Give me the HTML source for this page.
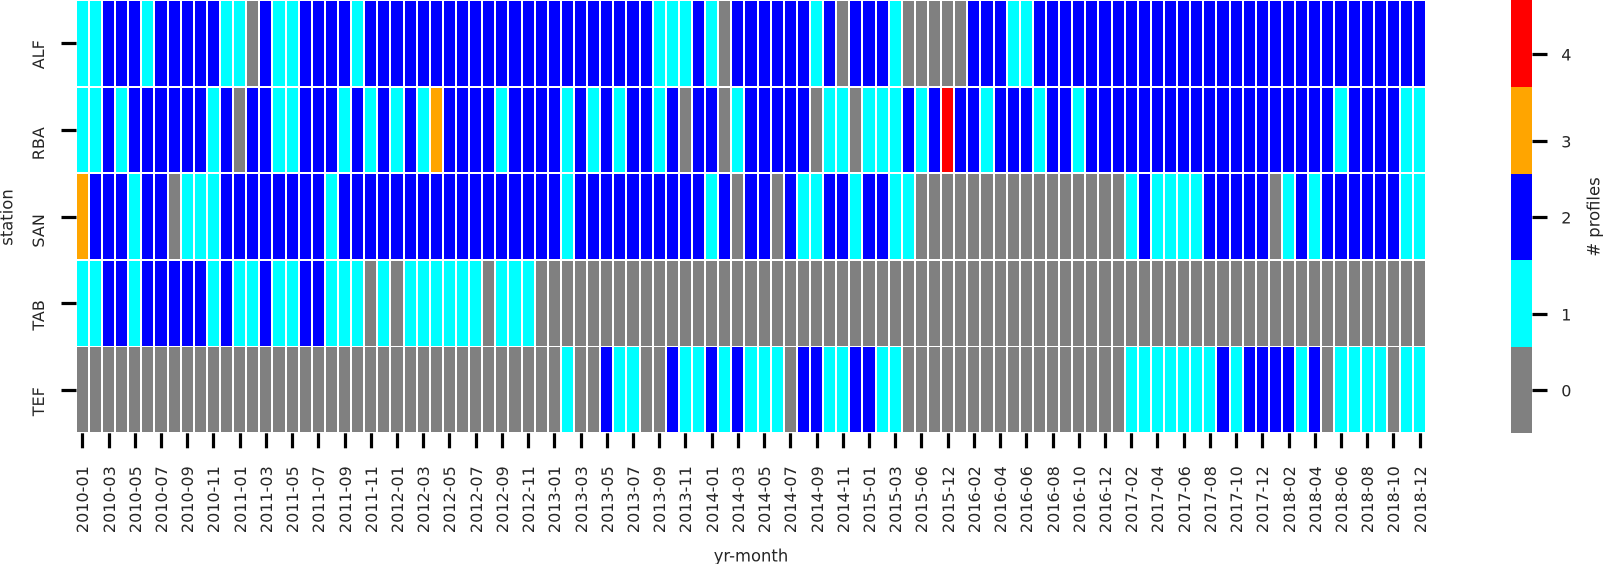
<!DOCTYPE html>
<html lang="en">
<head>
<meta charset="utf-8">
<title>Monthly profile counts by station</title>
<style>
  html, body { margin: 0; padding: 0; background: #fff; }
  svg { display: block; }
  text { font-family: "DejaVu Sans", "Liberation Sans", sans-serif; font-size: 16px; fill: #262626; }
  text.axis-title { font-size: 16.4px; }
</style>
</head>
<body>
<svg id="chart" xmlns="http://www.w3.org/2000/svg" width="1603" height="564" viewBox="0 0 1603 564"></svg>
<script>
const stations = ["ALF", "RBA", "SAN", "TAB", "TEF"];
const xTickLabels = [
  "2010-01","2010-03","2010-05","2010-07","2010-09","2010-11",
  "2011-01","2011-03","2011-05","2011-07","2011-09","2011-11",
  "2012-01","2012-03","2012-05","2012-07","2012-09","2012-11",
  "2013-01","2013-03","2013-05","2013-07","2013-09","2013-11",
  "2014-01","2014-03","2014-05","2014-07","2014-09","2014-11",
  "2015-01","2015-03","2015-06","2015-12",
  "2016-02","2016-04","2016-06","2016-08","2016-10","2016-12",
  "2017-02","2017-04","2017-06","2017-08","2017-10","2017-12",
  "2018-02","2018-04","2018-06","2018-08","2018-10","2018-12"
];
const alfValues = [1,1,2,2,2,1,2,2,2,2,2,1,1,0,2,1,1,2,2,2,2,1,2,2,2,2,
  2,2,2,2,2,2,2,2,2,2,2,2,2,2,2,2,2,2,1,1,1,2,1,0,2,2,
  2,2,2,2,1,2,0,2,2,2,1,0,0,0,0,0,2,2,2,1,1,2,2,2,2,2,
  2,2,2,2,2,2,2,2,2,2,2,2,2,2,2,2,2,2,2,2,2,2,2,2,2];
const rbaValues = [1,1,2,1,2,2,2,2,2,2,1,2,0,2,2,1,1,2,2,2,1,2,1,2,1,2,
  1,3,2,2,2,2,1,2,2,2,2,1,2,1,2,1,2,2,1,2,0,2,2,0,1,2,
  2,2,2,2,0,1,1,0,1,1,1,2,1,2,4,2,2,1,2,2,2,1,2,2,1,2,
  2,2,2,2,2,2,2,2,2,2,2,2,2,2,2,2,2,2,1,2,2,2,2,1,1];
const sanValues = [3,2,2,2,1,2,2,0,1,1,1,2,2,2,2,2,2,2,2,1,2,2,2,2,2,2,
  2,2,2,2,2,2,2,2,2,2,2,1,2,2,2,2,2,2,2,2,2,2,1,2,0,2,
  2,0,2,1,1,2,2,1,2,2,1,1,0,0,0,0,0,0,0,0,0,0,0,0,0,0,
  0,0,1,2,1,1,1,1,2,2,2,2,2,0,1,2,1,2,2,2,2,2,2,1,1];
const tabValues = [1,1,2,2,1,2,2,2,2,2,1,2,1,1,2,1,1,2,2,1,1,1,0,1,0,1,
  1,1,1,1,1,0,1,1,1,0,0,0,0,0,0,0,0,0,0,0,0,0,0,0,0,0,
  0,0,0,0,0,0,0,0,0,0,0,0,0,0,0,0,0,0,0,0,0,0,0,0,0,0,
  0,0,0,0,0,0,0,0,0,0,0,0,0,0,0,0,0,0,0,0,0,0,0,0,0];
const tefValues = [0,0,0,0,0,0,0,0,0,0,0,0,0,0,0,0,0,0,0,0,0,0,0,0,0,0,
  0,0,0,0,0,0,0,0,0,0,0,1,0,0,2,1,1,0,0,2,1,1,2,1,2,1,
  1,1,0,2,2,1,1,2,2,1,1,0,0,0,0,0,0,0,0,0,0,0,0,0,0,0,
  0,0,1,1,1,1,1,1,1,2,1,2,2,2,2,1,2,0,1,1,1,1,0,1,1];
const seriesValues = [alfValues, rbaValues, sanValues, tabValues, tefValues];
const levelColors = ["#808080", "#00ffff", "#0000ff", "#ffa500", "#ff0000"];
const colorbarTickValues = [0, 0.88, 2, 2.87, 3.87];
const colorbarTickLabels = ["0", "1", "2", "3", "4"];

const svg = document.getElementById("chart");
const NS = "http://www.w3.org/2000/svg";
function make(tag, attrs, parent) {
  const el = document.createElementNS(NS, tag);
  for (const k in attrs) el.setAttribute(k, attrs[k]);
  (parent || svg).appendChild(el);
  return el;
}
function group() {
  return document.createElementNS(NS, "g");
}

const colPitch = 13.1111;
const rowPitch = 86.6;
const xEdge = i => Math.floor(77.25 + i * colPitch);
const rowTop = r => Math.floor(1.5 + r * rowPitch);
const rowBottom = r => Math.floor(86.3 + r * rowPitch);
const xCenter = i => 76.25 + (i + 0.5) * colPitch;
const yCenter = r => 43.5 + r * 86.75;
const snap = v => Math.floor(v) + 0.5;
const cbarEdge = n => Math.round(433.4 - 86.6 * n);
const cbarTickY = v => 434 - (v + 0.5) * 86.75;

/* heatmap cells */
const cellsGroup = group();


svg.appendChild(cellsGroup);
seriesValues.forEach(function (values, r) {
  values.forEach(function (v, i) {
    const cell = make("rect", {
      x: xEdge(i), y: rowTop(r),
      width: xEdge(i + 1) - xEdge(i) - 2,
      height: rowBottom(r) - rowTop(r),
      fill: levelColors[v],
      "shape-rendering": "crispEdges"
    }, cellsGroup);
    
    
  });
});

/* y axis */
const yAxis = group();


svg.appendChild(yAxis);
stations.forEach(function (name, r) {
  const y = snap(yCenter(r));
  const tick = make("line", { x1: 61.5, x2: 76.5, y1: y, y2: y, stroke: "#000", "stroke-width": 3.2 }, yAxis);
  
  
  const label = make("text", { x: 44, y: y - 3.3, "text-anchor": "end", transform: "rotate(-90 44 " + (y - 3.3) + ")" }, yAxis);
  label.textContent = name;
  
  
});
const yTitle = make("text", { x: 12.7, y: 217.5, "text-anchor": "middle", "class": "axis-title", transform: "rotate(-90 12.7 217.5)" });
yTitle.textContent = "station";



/* x axis */
const xAxis = group();


svg.appendChild(xAxis);
xTickLabels.forEach(function (name, n) {
  const x = snap(xCenter(n * 2));
  const tick = make("line", { x1: x, x2: x, y1: 433.3, y2: 448.3, stroke: "#000", "stroke-width": 3.2 }, xAxis);
  
  
  const bx = x + 5.7;
  const label = make("text", { x: bx, y: 466.2, "text-anchor": "end", transform: "rotate(-90 " + bx + " 466.2)" }, xAxis);
  label.textContent = name;
  
  
});
const xTitle = make("text", { x: 751, y: 561.5, "text-anchor": "middle", "class": "axis-title" });
xTitle.textContent = "yr-month";



/* colorbar */
const cbar = group();


svg.appendChild(cbar);
levelColors.forEach(function (color, n) {
  const seg = make("rect", {
    x: 1511, y: cbarEdge(n + 1), width: 21,
    height: cbarEdge(n) - cbarEdge(n + 1),
    fill: color, "shape-rendering": "crispEdges"
  }, cbar);
  
  
});
colorbarTickValues.forEach(function (v, n) {
  const y = snap(cbarTickY(v));
  const tick = make("line", { x1: 1532.5, x2: 1547.5, y1: y, y2: y, stroke: "#000", "stroke-width": 3.2 }, cbar);
  
  
  const label = make("text", { x: 1561.3, y: y + 5.8 }, cbar);
  label.textContent = colorbarTickLabels[n];
  
  
});
const cbarTitle = make("text", { x: 1599.3, y: 217, "text-anchor": "middle", "class": "axis-title", transform: "rotate(-90 1599.3 217)" });
cbarTitle.textContent = "# profiles";


</script>
</body>
</html>
